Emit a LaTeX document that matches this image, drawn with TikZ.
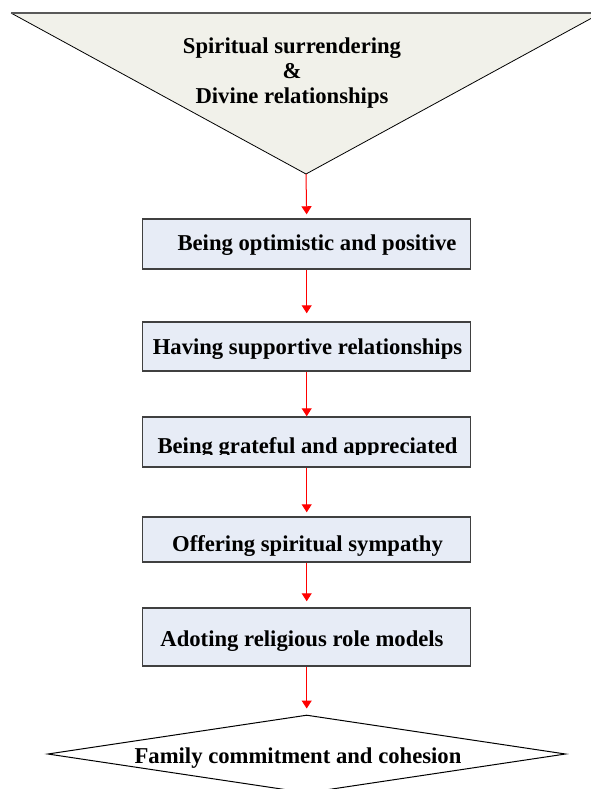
\documentclass[tikz,border=0pt]{standalone}
\usepackage{fontspec}
\setmainfont{Liberation Serif}
\usetikzlibrary{arrows.meta,shapes.geometric}
\definecolor{trifill}{RGB}{241,241,234}
\definecolor{boxfill}{RGB}{231,236,246}
\definecolor{boxline}{RGB}{64,64,64}
\begin{document}
\begin{tikzpicture}[x=0.75pt,y=-0.75pt,
  box/.style={draw=boxline,line width=1.1pt,fill=boxfill,minimum width=246pt,inner sep=0pt},
  txt/.style={font=\fontsize{17}{18.75}\selectfont\bfseries,inner sep=0pt},
  link/.style={red,line width=0.75pt,-{Triangle[width=7.5pt,length=6pt]}}]
\useasboundingbox (0,0) rectangle (591,789);
% top triangle
\fill[trifill] (11,13) -- (601,13) -- (306,174) -- cycle;
\draw[line width=0.6pt] (11,13) -- (306,174) -- (601,13);
\draw[gray!70!black,line width=1.5pt] (11,13) -- (601,13);
\coordinate (apex) at (306,174);
\node[txt,align=center] (top) at (292,73) {Spiritual surrendering\\\&\\Divine relationships};
% boxes
\node[box,minimum height=37.5pt] (b1) at (306.7,244) {};
\node[txt,anchor=base] (t1) at (317,250) {Being optimistic and positive};
\node[box,minimum height=36.75pt] (b2) at (306.7,346.5) {};
\node[txt,anchor=base] (t2) at (307.5,354) {Having supportive relationships};
\node[box,minimum height=37.5pt] (b3) at (306.7,442) {};
\begin{scope}
\clip (142,417) rectangle (471,454);
\node[txt,anchor=base] (t3) at (307.5,453) {Being grateful and appreciated};
\end{scope}
\node[box,minimum height=33.75pt] (b4) at (306.7,539.5) {};
\node[txt,anchor=base] (t4) at (307.5,551) {Offering spiritual sympathy};
\node[box,minimum height=43.5pt] (b5) at (306.7,637) {};
\node[txt,anchor=base] (t5) at (302,646) {Adoting religious role models};
% bottom diamond
\node[diamond,draw,line width=0.75pt,inner sep=0pt,minimum width=388.5pt,minimum height=58.5pt] (fam) at (306.7,754) {};
\node[txt,anchor=base] (tf) at (298,763) {Family commitment and cohesion};
% arrows
\draw[link,shorten >=3pt] (apex) -- (b1.north);
\draw[link,shorten >=6pt] (b1.south) -- (b2.north);
\draw[link] (b2.south) -- (b3.north);
\draw[link,shorten >=3pt] (b3.south) -- (b4.north);
\draw[link,shorten >=4.5pt] (b4.south) -- (b5.north);
\draw[link,shorten >=4.5pt] (b5.south) -- (fam.north);
\end{tikzpicture}
\end{document}
